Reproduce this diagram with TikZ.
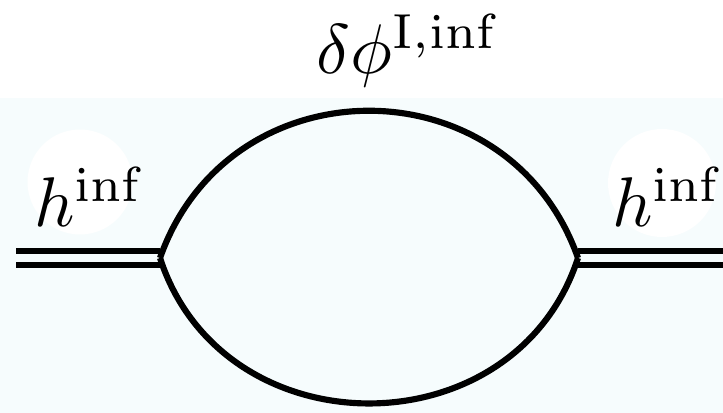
\documentclass[tikz,border=0pt]{standalone}
\definecolor{paleblue}{HTML}{F6FCFD}
\begin{document}
\begin{tikzpicture}[
    loop line/.style={line width=3.5pt},
    ext line/.style={line width=3.5pt, double=paleblue, double distance=4.5pt},
    lbl/.style={scale=4.0, transform shape, inner sep=0pt, anchor=base west}]
    \useasboundingbox (0,0) rectangle (14.46,8.26);
    \fill[paleblue] (0,0) rectangle (14.46,6.3);
    \fill[white] (1.6,4.62) circle (1.05);
    \fill[white] (13.24,4.6) circle (1.08);
    \coordinate (vl) at (3.2,3.1);
    \coordinate (vr) at (11.56,3.1);
    \coordinate (inl) at (0.32,3.1);
    \coordinate (outr) at (14.46,3.1);
    \draw[ext line] (inl) -- (vl);
    \draw[ext line] (vr) -- (outr);
    \draw[loop line] (vl) to[out=70.6, in=109.4, looseness=1.277] (vr); % upper
    \draw[loop line] (vl) to[out=-72, in=-108, looseness=1.251] (vr); % lower
    \node[lbl] (hl) at (0.66,3.72) {$h^{\mathrm{inf}}$};
    \node[lbl] (hr) at (12.22,3.72) {$h^{\mathrm{inf}}$};
    \node[lbl] (dphi) at (6.3,6.78) {$\delta\phi^{\mathrm{I,inf}}$};
\end{tikzpicture}
\end{document}
